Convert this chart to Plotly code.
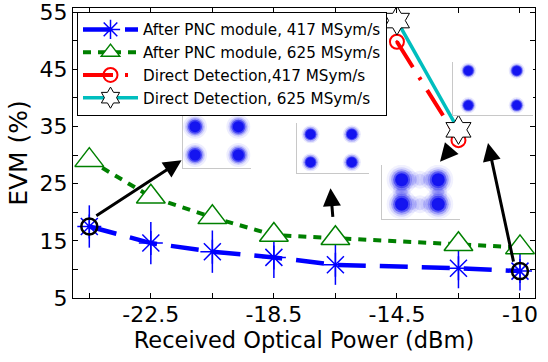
import plotly.graph_objects as go

# ---------------- data ----------------
tick_positions = [1, 2, 3, 4, 5, 6, 7, 8]
tick_text = ["", "-22.5", "", "-18.5", "", "-14.5", "", "-10"]

pnc_x = [1, 2, 3, 4, 5, 7, 8]
evm_pnc_417 = [17.5, 14.6, 13.1, 12.1, 10.8, 10.2, 9.7]
err_pnc_417 = [3.7, 3.7, 3.7, 3.6, 3.5, 3.5, 3.4]
evm_pnc_625 = [29.1, 22.7, 19.1, 16.0, 15.45, 14.4, 13.85]

dd_x = [6, 7]
evm_dd_417 = [49.8, 32.6]
evm_dd_625 = [53.5, 34.4]

highlight_idx = [0, 6]  # points of the 417 MSym/s PNC curve that are circled

# constellation cluster centres (I, Q) for the four insets
const_I = [-1, 1, -1, 1]
const_Q = [1, 1, -1, -1]
# scattered noise between clusters in the direct-detection constellation
ring_I = [0, 0, -1, 1, -0.5, 0.5, -0.5, 0.5, -1, 1, -1, 1]
ring_Q = [1, -1, 0, 0, 1, 1, -1, -1, 0.5, 0.5, -0.5, -0.5]

# arrows: (tail_x, tail_y, head_x, head_y) in data units
arrows = [
    (1.09, 19.2, 2.50, 29.1),
    (4.96, 18.9, 4.92, 24.2),
    (6.86, 30.8, 6.70, 28.8),
    (7.90, 11.1, 7.48, 32.1),
]

FONT = "DejaVu Sans, Liberation Sans, Arial, sans-serif"
W, H = 548, 362
L, R, T, B = 73, 13, 8, 64
PW, PH = W - L - R, H - T - B

fig = go.Figure()

fig.add_trace(go.Scatter(
    x=pnc_x, y=evm_pnc_417, name="After PNC module, 417 MSym/s",
    mode="lines+markers",
    line=dict(color="rgb(0,0,255)", width=4.5, dash="28px,14px"),
    marker=dict(symbol="asterisk-open", size=20, color="rgb(0,0,255)",
                line=dict(color="rgb(0,0,255)", width=1.5)),
    error_y=dict(type="data", array=err_pnc_417, color="rgb(0,0,255)",
                 thickness=1.5, width=0),
))
fig.add_trace(go.Scatter(
    x=pnc_x, y=evm_pnc_625, name="After PNC module, 625 MSym/s",
    mode="lines+markers",
    line=dict(color="rgb(0,128,0)", width=4, dash="8px,7px"),
    marker=dict(symbol="triangle-up", size=25, color="white",
                line=dict(color="rgb(0,128,0)", width=1.5)),
))
fig.add_trace(go.Scatter(
    x=dd_x, y=evm_dd_417, name="Direct Detection,417 MSym/s",
    mode="lines+markers",
    line=dict(color="rgb(255,0,0)", width=4, dash="30px,12px,3px,12px"),
    marker=dict(symbol="circle-open-dot", size=14, color="rgb(255,0,0)",
                line=dict(color="rgb(255,0,0)", width=2)),
))
fig.add_trace(go.Scatter(
    x=dd_x, y=evm_dd_625, name="Direct Detection, 625 MSym/s",
    mode="lines+markers",
    line=dict(color="rgb(0,190,190)", width=3.5),
    marker=dict(symbol="hexagram", size=22, color="white",
                line=dict(color="black", width=1)),
))
fig.add_trace(go.Scatter(
    x=[pnc_x[i] for i in highlight_idx], y=[evm_pnc_417[i] for i in highlight_idx],
    mode="markers", showlegend=False,
    marker=dict(symbol="circle-open", size=16, color="black",
                line=dict(color="black", width=2.5)),
))

# ---------------- insets ----------------
def px_dom_x(a, b):
    return [(a - L) / PW, (b - L) / PW]

def px_dom_y(top, bottom):
    return [(H - B - bottom) / PH, (H - B - top) / PH]

insets = [
    dict(dx=px_dom_x(182.7, 250.7), dy=px_dom_y(111.7, 168.3), xr=[-1.57, 1.57], yr=[-1.94, 2.06],
         layers=[(24, 0.08), (20, 0.15), (17, 0.3), (14, 0.6), (11, 1.0)], ring=False),
    dict(dx=px_dom_x(296.7, 369.3), dy=px_dom_y(123.3, 173.3), xr=[-1.67, 1.85], yr=[-1.79, 1.79],
         layers=[(18, 0.1), (15, 0.25), (12, 0.6), (10, 1.0)], ring=False),
    dict(dx=px_dom_x(381.7, 460.0), dy=px_dom_y(165.0, 219.3), xr=[-2.09, 2.19], yr=[-2.23, 2.2],
         layers=[(30, 0.06), (25, 0.12), (21, 0.25), (17, 0.5), (13, 1.0)], ring=True),
    dict(dx=px_dom_x(453.3, 533.0), dy=px_dom_y(61.7, 115.0), xr=[-1.62, 1.67], yr=[-1.56, 1.52],
         layers=[(16, 0.1), (13, 0.3), (11, 0.7), (9, 1.0)], ring=False),
]

layout_axes = {}
for k, ins in enumerate(insets):
    n = k + 2
    xa, ya = f"x{n}", f"y{n}"
    if ins["ring"]:
        for size, op in [(18, 0.07), (12, 0.12)]:
            fig.add_trace(go.Scatter(
                x=ring_I, y=ring_Q, xaxis=xa, yaxis=ya, mode="markers",
                showlegend=False, hoverinfo="skip",
                marker=dict(symbol="circle", size=size, color="rgb(30,30,240)",
                            opacity=op, line=dict(width=0)),
            ))
    for size, op in ins["layers"]:
        fig.add_trace(go.Scatter(
            x=const_I, y=const_Q, xaxis=xa, yaxis=ya, mode="markers",
            showlegend=False, hoverinfo="skip",
            marker=dict(symbol="circle", size=size, color="rgb(20,20,240)",
                        opacity=op, line=dict(width=0)),
        ))
    common = dict(showline=True, linecolor="#c8c8c8", linewidth=1, showgrid=False,
                  zeroline=False, showticklabels=False, ticks="", fixedrange=True,
                  automargin=False)
    layout_axes[f"xaxis{n}"] = dict(domain=ins["dx"], range=ins["xr"], anchor=ya, **common)
    layout_axes[f"yaxis{n}"] = dict(domain=ins["dy"], range=ins["yr"], anchor=xa, **common)

annotations = []
for tx, ty, hx, hy in arrows:
    annotations.append(dict(
        x=hx, y=hy, ax=tx, ay=ty, xref="x", yref="y", axref="x", ayref="y",
        showarrow=True, arrowhead=2, arrowsize=1.2, arrowwidth=3, arrowcolor="black",
        text="", standoff=0, startstandoff=0,
    ))

fig.update_layout(
    width=W, height=H,
    margin=dict(l=L, r=R, t=T, b=B, autoexpand=False),
    paper_bgcolor="white", plot_bgcolor="white",
    font=dict(family=FONT, color="black"),
    showlegend=True,
    legend=dict(x=(77 - L) / PW, y=(H - B - 12) / PH, xanchor="left", yanchor="top",
                bgcolor="white", bordercolor="black", borderwidth=1,
                font=dict(size=15.2, family=FONT), tracegroupgap=0, itemwidth=55),
    xaxis=dict(range=[0.735, 8.244], tickmode="array", tickvals=tick_positions,
               ticktext=tick_text, ticks="inside", ticklen=5, tickcolor="black",
               showline=True, linecolor="black", linewidth=1, mirror="ticks",
               showgrid=False, zeroline=False, tickfont=dict(size=22),
               automargin=False, ticklabelstandoff=-3,
               title=dict(text="Received Optical Power (dBm)", font=dict(size=22.5), standoff=4)),
    yaxis=dict(range=[5, 55.7], tick0=5, dtick=10, ticks="inside", ticklen=5,
               tickcolor="black", showline=True, linecolor="black", linewidth=1,
               mirror="ticks", showgrid=False, zeroline=False, tickfont=dict(size=22),
               automargin=False, ticklabeloverflow="allow",
               minor=dict(tick0=5, dtick=5, ticks="inside", ticklen=5, tickcolor="black"),
               title=dict(text="EVM (%)", font=dict(size=25), standoff=4)),
    annotations=annotations,
    **layout_axes,
)

fig.write_html("out.html")
